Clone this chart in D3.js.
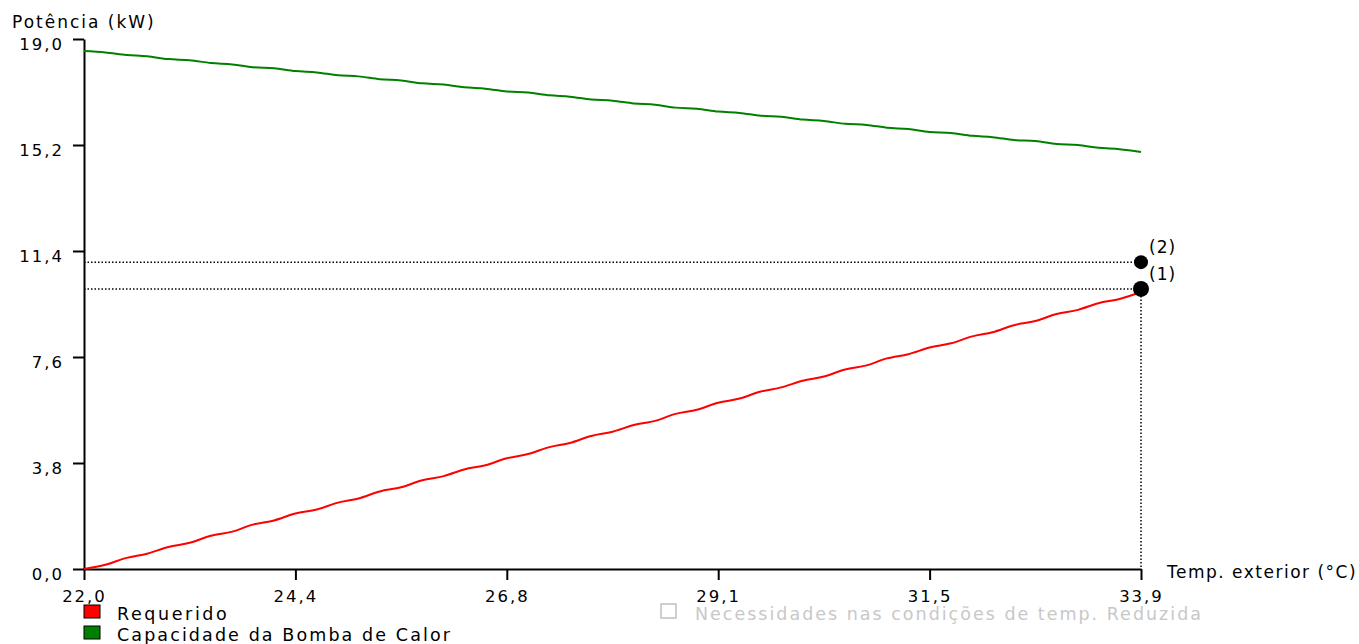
<!DOCTYPE html>
<html>
<head>
<meta charset="utf-8">
<script src="https://cdn.jsdelivr.net/npm/d3@7"></script>
<style>
  html, body { margin: 0; padding: 0; background: #fff; }
  svg { display: block; }
  text { font-family: "DejaVu Sans", Verdana, sans-serif; font-size: 16.5px; letter-spacing: 2px; fill: #000; }
</style>
</head>
<body>
<svg id="chart" width="1359" height="644"></svg>
<script>
// Outdoor temperature (°C) sample points
const temps = [22.00, 22.24, 22.48, 22.71, 22.95, 23.19, 23.43, 23.67, 23.90, 24.14,
               24.38, 24.62, 24.86, 25.09, 25.33, 25.57, 25.81, 26.05, 26.28, 26.52,
               26.76, 27.00, 27.24, 27.47, 27.71, 27.95, 28.19, 28.43, 28.66, 28.90,
               29.14, 29.38, 29.62, 29.85, 30.09, 30.33, 30.57, 30.81, 31.04, 31.28,
               31.52, 31.76, 32.00, 32.23, 32.47, 32.71, 32.95, 33.19, 33.42, 33.66,
               33.90];
// Required heating/cooling power (kW)
const required = [0.00, 0.15, 0.40, 0.55, 0.79, 0.94, 1.19, 1.34, 1.59, 1.74,
                  1.99, 2.13, 2.38, 2.53, 2.78, 2.93, 3.18, 3.33, 3.57, 3.72,
                  3.97, 4.12, 4.37, 4.52, 4.77, 4.92, 5.16, 5.31, 5.56, 5.71,
                  5.96, 6.11, 6.36, 6.51, 6.75, 6.90, 7.15, 7.30, 7.55, 7.70,
                  7.94, 8.09, 8.34, 8.49, 8.74, 8.89, 9.14, 9.29, 9.53, 9.68,
                  9.93];
// Heat pump capacity (kW)
const capacity = [18.57, 18.52, 18.43, 18.38, 18.28, 18.24, 18.14, 18.09, 17.99, 17.95,
                  17.85, 17.80, 17.70, 17.66, 17.56, 17.51, 17.41, 17.37, 17.27, 17.22,
                  17.12, 17.08, 16.98, 16.93, 16.83, 16.79, 16.69, 16.64, 16.54, 16.50,
                  16.40, 16.35, 16.25, 16.21, 16.11, 16.06, 15.96, 15.92, 15.82, 15.77,
                  15.67, 15.63, 15.53, 15.48, 15.38, 15.34, 15.24, 15.20, 15.10, 15.05,
                  14.95];
// Marked operating points at the design temperature
const markers = [
  { label: "(1)", t: 33.9, p: 10.04, r: 8 },
  { label: "(2)", t: 33.9, p: 11.00, r: 7 }
];
const xTicks = [22.00, 24.38, 26.76, 29.14, 31.52, 33.90];
const yTicks = [0.0, 3.8, 7.6, 11.4, 15.2, 19.0];
const legendItems = [
  { name: "Requerido", color: "#ff0000" },
  { name: "Capacidade da Bomba de Calor", color: "#008000" }
];
const inactiveLegend = "Necessidades nas condições de temp. Reduzida";

const svg = d3.select("#chart");
const x = d3.scaleLinear().domain([22.0, 33.9]).range([84, 1141]);
const y = d3.scaleLinear().domain([0, 19.0]).range([569, 39]);
const fmt = v => d3.format(".1f")(v).replace(".", ",");

// Axes
const xAxis = svg.append("g").attr("transform", `translate(0,${y(0)})`)
  .call(d3.axisBottom(x).tickValues(xTicks).tickSize(11).tickPadding(6).tickFormat(fmt).tickSizeOuter(0));
const yAxis = svg.append("g").attr("transform", `translate(${x(22.0)},0)`)
  .call(d3.axisLeft(y).tickValues(yTicks).tickSize(11).tickPadding(9).tickFormat(fmt).tickSizeOuter(0));
[xAxis, yAxis].forEach(g => {
  g.selectAll("path.domain").attr("stroke", "#000").attr("stroke-width", 2);
  g.selectAll(".tick line").attr("stroke", "#000").attr("stroke-width", 2);
  g.selectAll(".tick text").attr("fill", "#000").style("font-size", "16.5px")
    .style("font-family", "DejaVu Sans, sans-serif").style("letter-spacing", "2px");
});
xAxis.selectAll(".tick text").attr("dy", "0.95em");
yAxis.selectAll(".tick text").attr("dy", "0.62em");

// Axis titles
svg.append("text").attr("x", 12).attr("y", 28)
  .style("font-size", "17px").style("letter-spacing", "2px").text("Potência (kW)");
svg.append("text").attr("x", 1167).attr("y", 578)
  .style("font-size", "17px").style("letter-spacing", "1.5px").text("Temp. exterior (°C)");

// Reference lines to the marked points
markers.forEach(m => {
  svg.append("line")
    .attr("x1", x(22.0)).attr("x2", x(m.t)).attr("y1", y(m.p)).attr("y2", y(m.p))
    .attr("stroke", "#000").attr("stroke-width", 1.5).attr("stroke-dasharray", "1.5,2");
});
const m1 = markers[0];
svg.append("line")
  .attr("x1", x(m1.t)).attr("x2", x(m1.t)).attr("y1", y(m1.p)).attr("y2", y(0))
  .attr("stroke", "#000").attr("stroke-width", 1.5).attr("stroke-dasharray", "1.5,2");

// Series lines
const line = d3.line().x((d, i) => x(temps[i])).y(d => y(d)).curve(d3.curveMonotoneX);
svg.append("path").datum(capacity).attr("d", line)
  .attr("fill", "none").attr("stroke", "#008000").attr("stroke-width", 2);
svg.append("path").datum(required).attr("d", line)
  .attr("fill", "none").attr("stroke", "#ff0000").attr("stroke-width", 2);

// Marker dots and labels
markers.forEach(m => {
  svg.append("circle").attr("cx", x(m.t)).attr("cy", y(m.p)).attr("r", m.r).attr("fill", "#000");
  svg.append("text").attr("x", x(m.t) + 8).attr("y", y(m.p) - 9)
    .style("font-size", "17px").style("letter-spacing", "1px").text(m.label);
});

// Legend
legendItems.forEach((d, i) => {
  const ly = 605 + i * 21;
  svg.append("rect").attr("x", 84).attr("y", ly).attr("width", 16).attr("height", 13)
    .attr("fill", d.color).attr("stroke", "#000").attr("stroke-width", 1);
  svg.append("text").attr("x", 117).attr("y", ly + 15)
    .style("font-size", "17.5px").style("letter-spacing", i === 0 ? "2.6px" : "2.1px").text(d.name);
});
svg.append("rect").attr("x", 661).attr("y", 604).attr("width", 15).attr("height", 14)
  .attr("fill", "#fff").attr("stroke", "#c0c0c0").attr("stroke-width", 1.5);
svg.append("text").attr("x", 695).attr("y", 620)
  .style("font-size", "17.5px").style("letter-spacing", "2px").style("fill", "#c8c8c8").text(inactiveLegend);
</script>
</body>
</html>
